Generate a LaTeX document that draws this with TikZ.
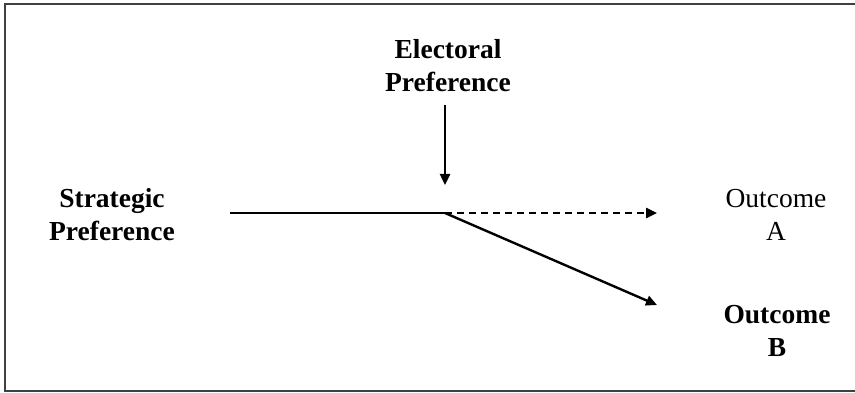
\documentclass[tikz,border=0pt]{standalone}
\usepackage{fontspec}
\setmainfont{Liberation Serif}
\usetikzlibrary{arrows.meta}
\begin{document}
\begin{tikzpicture}[x=1pt,y=-1pt,
  lbl/.style={align=center,font=\fontsize{27.5}{33}\selectfont,inner sep=0pt},
  blbl/.style={lbl,font=\fontsize{27.5}{33}\selectfont\bfseries},
  conn/.style={line width=2.4pt,-{Triangle[length=11pt,width=10pt]}},
  plain/.style={line width=2.4pt}]
\useasboundingbox (0,0) rectangle (855,393);
\draw[line width=1.6pt,color=black!75] (856,4) -- (5,4) -- (5,391) -- (856,391);
\node[blbl] (elec) at (448,66) {Electoral\\Preference};
\node[blbl] (strat) at (112,215) {Strategic\\Preference};
\node[lbl] (outA) at (776,215) {Outcome\\A};
\node[blbl] (outB) at (777,331) {Outcome\\B};
\coordinate (top) at (445,105);
\coordinate (tip) at (445,185);
\coordinate (start) at (230,213);
\coordinate (j) at (445,213);
\coordinate (endA) at (657,213);
\coordinate (endB) at (657,305);
\draw[conn] (top) -- (tip);
\draw[plain] (start) -- (j);
\draw[conn,dashed,dash pattern=on 7pt off 5pt] (j) -- (endA);
\draw[conn] (j) -- (endB);
\end{tikzpicture}
\end{document}
